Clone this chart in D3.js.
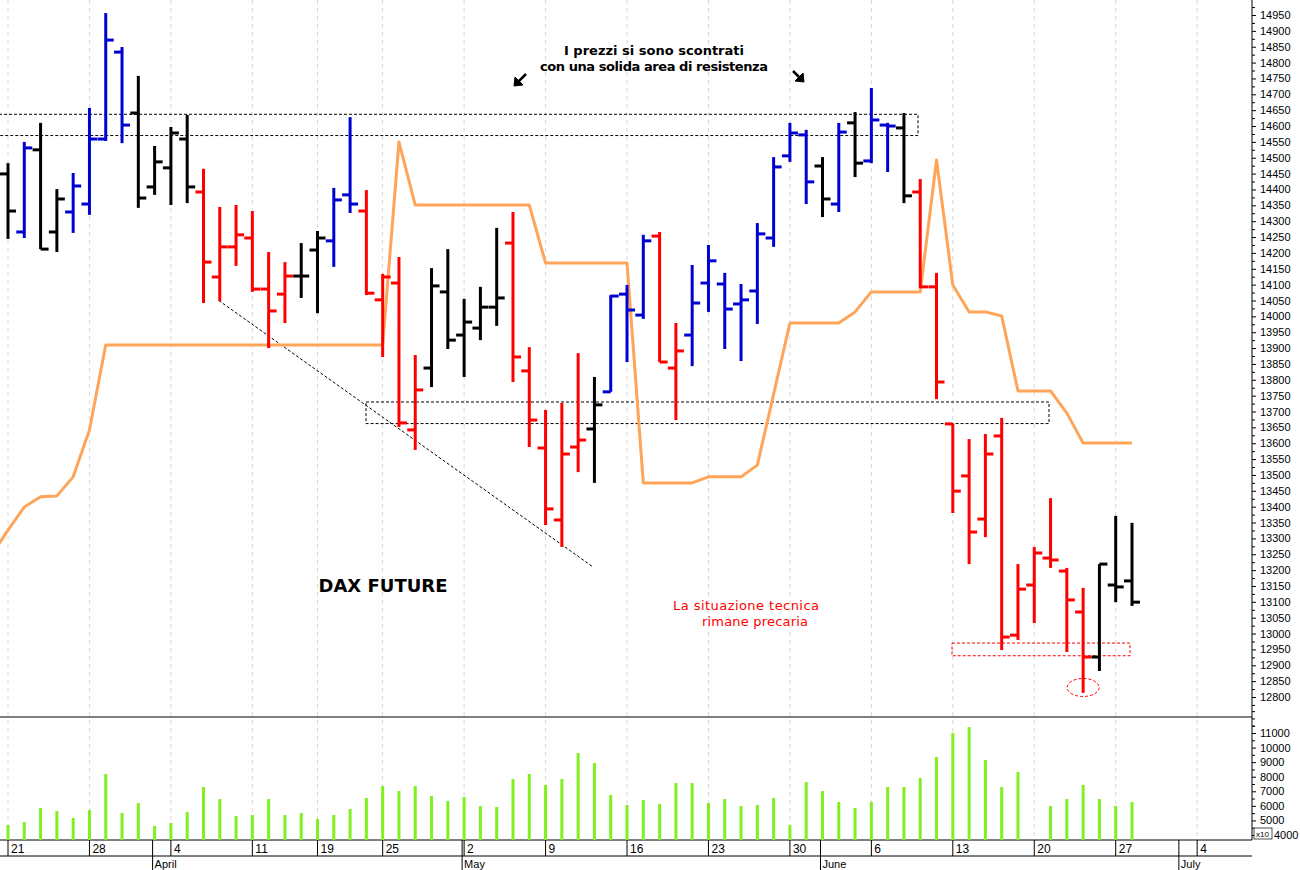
<!DOCTYPE html>
<html><head><meta charset="utf-8">
<script src="https://cdn.jsdelivr.net/npm/d3@7"></script>
<style>body{margin:0;background:#fff}svg{display:block}</style>
</head><body>
<script>
const dates=["03-21","03-22","03-23","03-24","03-25","03-28","03-29","03-30","03-31","04-01",
"04-04","04-05","04-06","04-07","04-08","04-11","04-12","04-13","04-14","04-19","04-20","04-21","04-22",
"04-25","04-26","04-27","04-28","04-29","05-02","05-03","05-04","05-05","05-06","05-09","05-10","05-11","05-12","05-13",
"05-16","05-17","05-18","05-19","05-20","05-23","05-24","05-25","05-26","05-27","05-30","05-31","06-01","06-02","06-03",
"06-06","06-07","06-08","06-09","06-10","06-13","06-14","06-15","06-16","06-17","06-20","06-21","06-22","06-23","06-24","06-27","06-28"];
const open=[14449,14266,14525,14266,14329,14354,14559,14833,14641,14408,14468,14559,14392,14124,14219,14247,14086,14070,14127,14209,14238,14383,14332,
14052,14105,13642,13837,14077,13941,13963,14029,14231,13828,13585,13358,13588,13645,13762,14070,14004,14253,13837,13941,14105,14102,14039,14080,14247,
14506,14572,14474,14354,14610,14490,14603,14594,14392,14093,13661,13497,13361,13623,12995,13153,13238,13197,13068,12926,13153,13166];
const high=[14483,14550,14610,14401,14452,14657,14956,14849,14758,14537,14597,14635,14465,14345,14351,14332,14203,14171,14231,14269,14405,14628,14398,
14134,14187,13878,14152,14212,14055,14093,14279,14329,13903,13705,13727,13884,13809,14067,14099,14257,14266,13979,14162,14225,14137,14102,14294,14502,
14610,14588,14502,14610,14644,14720,14610,14641,14433,14137,13661,13613,13629,13680,13219,13273,13427,13207,13144,13219,13371,13349];
const low=[14244,14247,14212,14203,14263,14320,14553,14546,14342,14383,14351,14357,14042,14048,14159,14077,13900,13979,14058,14010,14156,14326,14067,
13872,13651,13579,13777,13897,13809,13925,13970,13793,13588,13342,13273,13509,13475,13762,13856,13992,13856,13673,13843,14014,13897,13859,13976,14219,
14487,14354,14313,14329,14439,14483,14455,14357,14089,13739,13380,13219,13304,12948,12980,13033,13207,12942,12813,12882,13099,13087];
const close=[14332,14531,14212,14370,14411,14559,14871,14603,14373,14487,14578,14408,14171,14219,14257,14086,14017,14127,14127,14247,14367,14354,14073,
14124,13664,13768,14096,13925,13982,14029,14058,13872,13673,13393,13566,13610,13721,14064,14020,14238,13856,13891,14042,14175,14023,14052,14260,14471,
14578,14424,14370,14581,14483,14619,14600,14380,14093,13793,13449,13320,13566,12989,13140,13254,13232,13106,12926,13219,13147,13099];
const barColor="kbkkbbbbkkkkrrrrrrkkbbrrrrkkkkkrrrrrkbbbrrbbbbbbbbkbkbbkrrrrrrrrrrrkkk".split("");
// orange line, first value is the session before the first bar
const orange=[13248,13326,13399,13431,13434,13494,13642,13910,13910,13910,13910,13910,13910,13910,13910,13910,13910,13910,13910,13910,13910,13910,13910,13910,13910,
14550,14351,14351,14351,14351,14351,14351,14351,14351,14168,14168,14168,14168,14168,14168,13475,13475,13475,13475,13494,13494,13494,13531,13755,
13979,13979,13979,13979,14014,14077,14077,14077,14077,14493,14099,14014,14014,14001,13765,13765,13765,13695,13601,13601,13601,13601];
const volume=[4686,4892,5852,5646,5166,5715,8185,5509,6195,4617,4823,5578,7293,6470,5303,5372,6470,5372,5509,5098,5372,5784,6538,
7361,7018,7361,6675,6332,6607,5989,5921,7842,8185,7430,7842,9625,8939,6744,6058,6401,6127,7567,7567,6195,6470,5989,6058,6538,
4686,7636,7018,6264,5852,6264,7293,7293,7910,9351,10997,11409,9145,7293,8322,null,5989,6470,7430,6470,5989,6264];
const weekTicks=[[0,"21"],[5,"28"],[10,"4"],[15,"11"],[19,"19"],[23,"25"],[28,"2"],[33,"9"],[38,"16"],[43,"23"],[48,"30"],[53,"6"],[58,"13"],[63,"20"],[68,"27"],[73,"4"]];
const monthTicks=[[9,"April"],[28,"May"],[50,"June"],[72,"July"]];
const priceTicks=d3.range(12800,14951,50);
const volTicks=[11000,10000,9000,8000,7000,6000,5000,4000];

const W=1300,H=870,PR=1252;
const svg=d3.select("body").append("svg").attr("width",W).attr("height",H).style("font-family","Liberation Sans, Arial, sans-serif");
const x=d3.scaleLinear().domain([0,69]).range([8,1132]);
const y=d3.scaleLinear().domain([12800,14950]).range([697,15]);
const yv=d3.scaleLinear().domain([4000,11000]).range([835,733]);
const col={k:"#000",b:"#0000d0",r:"#ff0000"};

// grid
svg.append("g").selectAll("line").data(weekTicks).join("line")
 .attr("x1",d=>x(d[0])).attr("x2",d=>x(d[0])).attr("y1",0).attr("y2",840)
 .attr("stroke","#d8d8d8").attr("stroke-dasharray","4,4");

// panels lines
svg.append("line").attr("x1",0).attr("x2",PR).attr("y1",717).attr("y2",717).attr("stroke","#000");
svg.append("line").attr("x1",0).attr("x2",PR).attr("y1",840).attr("y2",840).attr("stroke","#000");
svg.append("line").attr("x1",0).attr("x2",PR).attr("y1",856).attr("y2",856).attr("stroke","#000");
svg.append("line").attr("x1",PR).attr("x2",PR).attr("y1",0).attr("y2",840).attr("stroke","#000");

// right price axis
const ax=svg.append("g").attr("transform",`translate(${PR},0)`)
 .call(d3.axisRight(y).tickValues(priceTicks).tickFormat(d3.format("d")).tickSize(4).tickSizeOuter(0));
ax.select(".domain").remove();
ax.selectAll("text").attr("font-size",11).attr("x",8);
svg.append("g").attr("transform",`translate(${PR},0)`)
 .call(d3.axisRight(y).tickValues(d3.range(12775,14976,25).filter(v=>v%50)).tickFormat("").tickSize(3).tickSizeOuter(0))
 .select(".domain").remove();
const av=svg.append("g").attr("transform",`translate(${PR},0)`)
 .call(d3.axisRight(yv).tickValues(volTicks).tickFormat(d3.format("d")).tickSize(4).tickSizeOuter(0));
av.select(".domain").remove();
av.selectAll("text").attr("font-size",11).attr("x",d=>d===4000?22:8);
svg.append("g").attr("transform",`translate(${PR},0)`)
 .call(d3.axisRight(yv).tickValues(d3.range(4500,11600,1000).concat([11500,12000,12500])).tickFormat("").tickSize(3).tickSizeOuter(0))
 .select(".domain").remove();
svg.append("rect").attr("x",1254).attr("y",828).attr("width",18).attr("height",11).attr("fill","#fff").attr("stroke","#000").attr("stroke-width",0.7);
svg.append("text").attr("x",1256).attr("y",837).attr("font-size",8).text("x10");

// date axis
svg.append("g").selectAll("line").data(weekTicks).join("line")
 .attr("x1",d=>x(d[0])).attr("x2",d=>x(d[0])).attr("y1",840).attr("y2",856).attr("stroke","#000");
svg.append("g").selectAll("text").data(weekTicks).join("text")
 .attr("x",d=>x(d[0])+3).attr("y",853).attr("font-size",12).text(d=>d[1]);
svg.append("g").selectAll("line").data(monthTicks).join("line")
 .attr("x1",d=>x(d[0])-2).attr("x2",d=>x(d[0])-2).attr("y1",840).attr("y2",870).attr("stroke","#000");
svg.append("g").selectAll("text").data(monthTicks).join("text")
 .attr("x",d=>x(d[0])).attr("y",868).attr("font-size",11).text(d=>d[1]);

// volume
svg.append("g").selectAll("line").data(volume.map((v,i)=>[i,v]).filter(d=>d[1]!=null)).join("line")
 .attr("x1",d=>x(d[0])).attr("x2",d=>x(d[0])).attr("y1",840).attr("y2",d=>yv(d[1]))
 .attr("stroke","#80f020").attr("stroke-width",3);

// annotations boxes
const ann=svg.append("g").attr("fill","none").attr("stroke-dasharray","3,2");
ann.append("rect").attr("x",-1).attr("y",y(14637)).attr("width",919).attr("height",y(14570)-y(14637)).attr("stroke","#000");
ann.append("rect").attr("x",366).attr("y",y(13730)).attr("width",683).attr("height",y(13662)-y(13730)).attr("stroke","#000");
ann.append("rect").attr("x",952).attr("y",y(12970)).attr("width",178).attr("height",y(12930)-y(12970)).attr("stroke","#ff0000");
ann.append("ellipse").attr("cx",x(66)).attr("cy",y(12830)).attr("rx",16).attr("ry",9).attr("stroke","#ff0000");
ann.append("line").attr("x1",x(13)-1).attr("y1",y(14050)).attr("x2",593).attr("y2",y(13210)).attr("stroke","#000");

// orange line
svg.append("path").datum(orange.map((v,i)=>[i-1,v]))
 .attr("d",d3.line().x(d=>x(d[0])).y(d=>y(d[1])))
 .attr("fill","none").attr("stroke","#ffa55a").attr("stroke-width",3).attr("stroke-linejoin","round");

// OHLC bars
const bars=svg.append("g").selectAll("g").data(dates.map((d,i)=>i)).join("g")
 .attr("stroke",i=>col[barColor[i]]).attr("stroke-width",3);
bars.append("line").attr("x1",i=>x(i)).attr("x2",i=>x(i)).attr("y1",i=>y(high[i])).attr("y2",i=>y(low[i]));
bars.append("line").attr("x1",i=>x(i)-8).attr("x2",i=>x(i)).attr("y1",i=>y(open[i])).attr("y2",i=>y(open[i]));
bars.append("line").attr("x1",i=>x(i)).attr("x2",i=>x(i)+8).attr("y1",i=>y(close[i])).attr("y2",i=>y(close[i]));

// texts
const t=svg.append("g").attr("text-anchor","middle");
t.append("text").attr("x",654).attr("y",55).attr("font-size",13).attr("font-family","DejaVu Sans").attr("font-weight","bold").attr("textLength",180).text("I prezzi si sono scontrati");
t.append("text").attr("x",654).attr("y",71).attr("font-size",13).attr("font-family","DejaVu Sans").attr("font-weight","bold").attr("textLength",228).text("con una solida area di resistenza");
t.append("text").attr("x",383).attr("y",592).attr("font-size",18).attr("font-family","DejaVu Sans").attr("font-weight","bold").text("DAX FUTURE");
t.append("text").attr("x",746).attr("y",610).attr("font-size",13).attr("fill","#ff0000").attr("font-family","DejaVu Sans").attr("textLength",146).text("La situazione tecnica");
t.append("text").attr("x",755).attr("y",626).attr("font-size",13).attr("fill","#ff0000").attr("font-family","DejaVu Sans").attr("textLength",106).text("rimane precaria");
// arrows
const arr=svg.append("g").attr("stroke","#000").attr("fill","#000");
arr.append("line").attr("x1",526).attr("y1",74).attr("x2",517).attr("y2",83).attr("stroke-width",2.5);
arr.append("path").attr("d","M514,86 L515,77 L523,85 Z");
arr.append("line").attr("x1",793).attr("y1",71).attr("x2",801).attr("y2",79).attr("stroke-width",2.5);
arr.append("path").attr("d","M804,82 L795,81 L803,73 Z");
</script>
</body></html>
